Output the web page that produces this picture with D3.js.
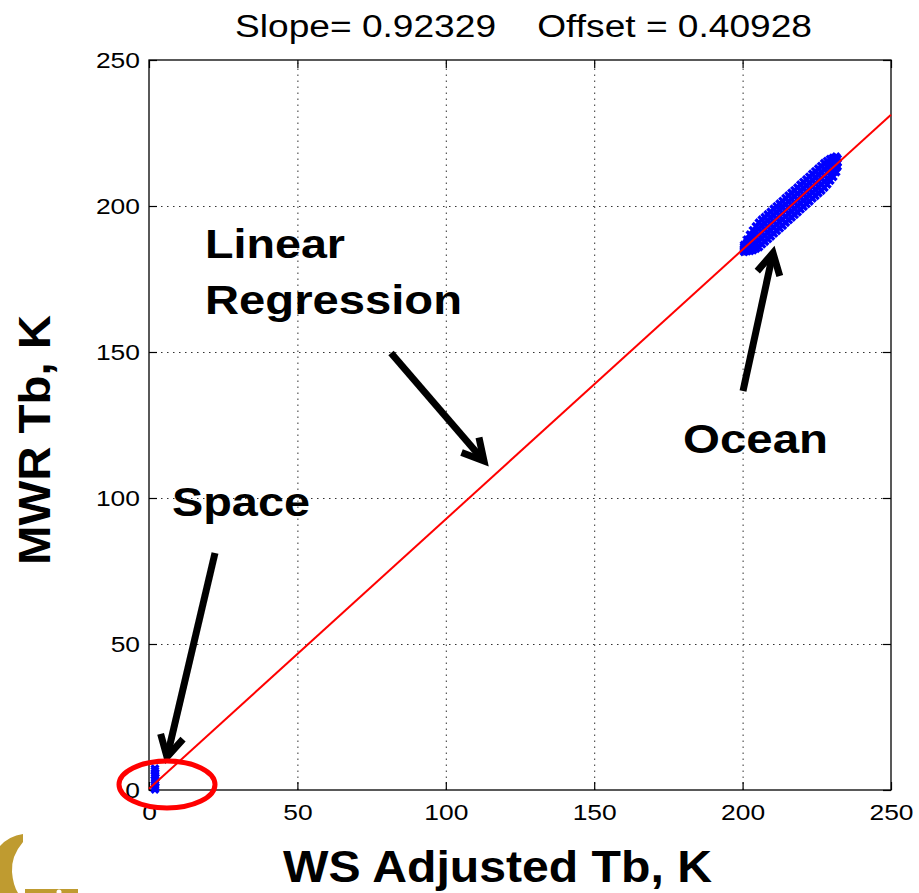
<!DOCTYPE html>
<html>
<head>
<meta charset="utf-8">
<script src="https://cdn.jsdelivr.net/npm/d3@7"></script>
<style>
  html, body { margin: 0; padding: 0; background: #fff; }
  svg { display: block; font-family: "Liberation Sans", Arial, sans-serif; }
</style>
</head>
<body>
<svg id="chart" width="919" height="893"></svg>
<script>
// Regression fit
const slope = 0.92329;
const offset = 0.40928;

// Axis ticks
const xTicks = [0, 50, 100, 150, 200, 250];
const yTicks = [0, 50, 100, 150, 200, 250];

// Ocean matchups (WS adjusted Tb, MWR Tb)
const oceanPoints = [
  [200.5,184.3],[200.5,184.9],[200.5,185.5],[200.5,186.1],[200.5,186.7],
  [201.5,184.5],[201.5,185.5],[201.5,186.5],[201.5,187.5],[201.5,188.5],
  [202.5,184.6],[202.5,186.0],[202.5,187.4],[202.5,188.8],[202.5,190.2],
  [203.5,184.9],[203.5,186.6],[203.5,188.3],[203.5,190.0],[203.5,191.7],
  [204.5,185.4],[204.5,187.3],[204.5,189.2],[204.5,191.1],[204.5,193.0],
  [205.5,185.9],[205.5,188.0],[205.5,190.1],[205.5,192.2],[205.5,194.3],
  [206.5,186.9],[206.5,189.0],[206.5,191.1],[206.5,193.2],[206.5,195.3],
  [207.5,187.8],[207.5,189.9],[207.5,192.0],[207.5,194.1],[207.5,196.2],
  [208.5,188.7],[208.5,190.8],[208.5,192.9],[208.5,195.0],[208.5,197.1],
  [209.5,189.6],[209.5,191.7],[209.5,193.8],[209.5,195.9],[209.5,198.0],
  [210.5,190.6],[210.5,192.7],[210.5,194.8],[210.5,196.9],[210.5,199.0],
  [211.5,191.5],[211.5,193.6],[211.5,195.7],[211.5,197.8],[211.5,199.9],
  [212.5,192.4],[212.5,194.5],[212.5,196.6],[212.5,198.7],[212.5,200.8],
  [213.5,193.3],[213.5,195.4],[213.5,197.5],[213.5,199.6],[213.5,201.7],
  [214.5,194.3],[214.5,196.4],[214.5,198.5],[214.5,200.6],[214.5,202.7],
  [215.5,195.2],[215.5,197.3],[215.5,199.4],[215.5,201.5],[215.5,203.6],
  [216.5,196.1],[216.5,198.2],[216.5,200.3],[216.5,202.4],[216.5,204.5],
  [217.5,197.0],[217.5,199.1],[217.5,201.2],[217.5,203.3],[217.5,205.4],
  [218.5,197.9],[218.5,200.0],[218.5,202.1],[218.5,204.2],[218.5,206.3],
  [219.5,198.9],[219.5,201.0],[219.5,203.1],[219.5,205.2],[219.5,207.3],
  [220.5,199.8],[220.5,201.9],[220.5,204.0],[220.5,206.1],[220.5,208.2],
  [221.5,200.7],[221.5,202.8],[221.5,204.9],[221.5,207.0],[221.5,209.1],
  [222.5,201.6],[222.5,203.7],[222.5,205.8],[222.5,207.9],[222.5,210.0],
  [223.5,202.6],[223.5,204.7],[223.5,206.8],[223.5,208.9],[223.5,211.0],
  [224.5,203.5],[224.5,205.6],[224.5,207.7],[224.5,209.8],[224.5,211.9],
  [225.5,204.4],[225.5,206.5],[225.5,208.6],[225.5,210.7],[225.5,212.8],
  [226.5,205.3],[226.5,207.4],[226.5,209.5],[226.5,211.6],[226.5,213.7],
  [227.5,206.3],[227.5,208.4],[227.5,210.5],[227.5,212.6],[227.5,214.7],
  [228.5,207.4],[228.5,209.4],[228.5,211.4],[228.5,213.4],[228.5,215.4],
  [229.5,208.7],[229.5,210.5],[229.5,212.3],[229.5,214.2],[229.5,216.1],
  [230.5,210.0],[230.5,211.6],[230.5,213.2],[230.5,214.8],[230.5,216.5],
  [231.5,211.6],[231.5,212.9],[231.5,214.1],[231.5,215.4],[231.5,216.9],
  [232.0,213.5],[232.0,214.8],[232.0,216.2]
];

// Deep-space (cold) matchups
const spacePoints = [
  [2.0,0.2],[2.1,1.0],[2.0,1.8],[2.1,2.6],[2.0,3.4],
  [2.1,4.2],[2.0,5.0],[2.1,5.8],[2.0,6.6],[2.0,7.3]
];

const svg = d3.select("#chart");
const margin = { left: 149, top: 60, right: 28, bottom: 103 };
const W = 919, H = 893;
const pw = W - margin.left - margin.right;
const ph = H - margin.top - margin.bottom;

const x = d3.scaleLinear().domain([0, 250]).range([margin.left, margin.left + pw]);
const y = d3.scaleLinear().domain([0, 250]).range([margin.top + ph, margin.top]);

// Widen text to a given width (or by a factor of its natural width)
function fitWidth(sel, width) {
  sel.attr("textLength", width).attr("lengthAdjust", "spacingAndGlyphs");
}
function widen(sel, factor) {
  sel.each(function () {
    const w = this.getComputedTextLength();
    d3.select(this).attr("textLength", w * factor).attr("lengthAdjust", "spacingAndGlyphs");
  });
}

// Dotted grid
const grid = svg.append("g").attr("stroke", "#000").attr("stroke-width", 1)
  .attr("stroke-dasharray", "1.5,4.5").attr("opacity", 0.8);
grid.selectAll("line.gx").data(xTicks.slice(1, -1)).join("line")
  .attr("x1", d => x(d) + 0.5).attr("x2", d => x(d) + 0.5)
  .attr("y1", y(0)).attr("y2", y(250));
grid.selectAll("line.gy").data(yTicks.slice(1, -1)).join("line")
  .attr("y1", d => y(d) + 0.5).attr("y2", d => y(d) + 0.5)
  .attr("x1", x(0)).attr("x2", x(250));

// Axes with inward ticks, boxed
const tickLen = 8;
const axB = d3.axisBottom(x).tickValues(xTicks).tickSize(-tickLen).tickPadding(14);
const axL = d3.axisLeft(y).tickValues(yTicks).tickSize(-tickLen).tickPadding(9);
const axT = d3.axisTop(x).tickValues(xTicks).tickSize(-tickLen).tickFormat("");
const axR = d3.axisRight(y).tickValues(yTicks).tickSize(-tickLen).tickFormat("");

function styleAxis(g) {
  g.select(".domain").remove();
  g.selectAll(".tick line").attr("stroke", "#000").attr("stroke-width", 1.2);
  g.selectAll(".tick text").attr("fill", "#000")
    .style("font-family", '"Liberation Sans", Arial, sans-serif')
    .style("font-size", "22px")
    .call(widen, 1.2);
}
svg.append("g").attr("transform", `translate(0,${y(0)})`).call(axB).call(styleAxis);
svg.append("g").attr("transform", `translate(${x(0)},0)`).call(axL).call(styleAxis);
svg.append("g").attr("transform", `translate(0,${y(250)})`).call(axT).call(styleAxis);
svg.append("g").attr("transform", `translate(${x(250)},0)`).call(axR).call(styleAxis);

svg.append("rect")
  .attr("x", x(0)).attr("y", y(250))
  .attr("width", x(250) - x(0)).attr("height", y(0) - y(250))
  .attr("fill", "none").attr("stroke", "#000").attr("stroke-width", 1.3);

// Scatter markers (x-shaped)
const m = 3.4;
function cross(sel) {
  sel.attr("d", d => {
    const cx = x(d[0]), cy = y(d[1]);
    return `M${cx - m},${cy - m}L${cx + m},${cy + m}M${cx - m},${cy + m}L${cx + m},${cy - m}`;
  });
}
const pts = svg.append("g").attr("stroke", "#0000ff").attr("stroke-width", 3.4).attr("fill", "none");
pts.selectAll("path.o").data(oceanPoints).join("path").call(cross);
pts.selectAll("path.s").data(spacePoints).join("path").call(cross);

// Regression line
const fit = d3.line().x(d => x(d)).y(d => y(slope * d + offset));
svg.append("path").datum([0, 250]).attr("d", fit)
  .attr("stroke", "#ff0000").attr("stroke-width", 2).attr("fill", "none");

// Title
svg.append("text").attr("x", 523.5).attr("y", 37).attr("text-anchor", "middle")
  .style("font-size", "31px").text("Slope= 0.92329\u00a0\u00a0\u00a0\u00a0Offset = 0.40928")
  .call(fitWidth, 577);

// Axis titles
svg.append("text").attr("x", 497.5).attr("y", 882).attr("text-anchor", "middle")
  .style("font-size", "44px").style("font-weight", "bold").text("WS Adjusted Tb, K")
  .call(fitWidth, 429);
svg.append("text").attr("transform", "translate(50,440) rotate(-90)").attr("text-anchor", "middle")
  .style("font-size", "44px").style("font-weight", "bold").text("MWR Tb, K")
  .call(fitWidth, 250);

// Annotations
const ann = svg.append("g").style("font-size", "40px").style("font-weight", "bold");
ann.append("text").attr("x", 205).attr("y", 258).text("Linear").call(fitWidth, 140);
ann.append("text").attr("x", 205).attr("y", 314).text("Regression").call(fitWidth, 257);
ann.append("text").attr("x", 683).attr("y", 453).text("Ocean").call(fitWidth, 145);
ann.append("text").attr("x", 172).attr("y", 516).text("Space").call(fitWidth, 138);

function arrow(x0, y0, x1, y1) {
  const a = Math.atan2(y1 - y0, x1 - x0);
  const L = 24, spread = 0.5;
  const ax1 = x1 - L * Math.cos(a - spread), ay1 = y1 - L * Math.sin(a - spread);
  const ax2 = x1 - L * Math.cos(a + spread), ay2 = y1 - L * Math.sin(a + spread);
  const g = svg.append("g").attr("stroke", "#000").attr("stroke-width", 7).attr("fill", "none");
  g.append("path").attr("d", `M${x0},${y0}L${x1 - 3 * Math.cos(a)},${y1 - 3 * Math.sin(a)}`);
  g.append("path").attr("d", `M${ax1},${ay1}L${x1},${y1}L${ax2},${ay2}`)
    .attr("stroke-linejoin", "miter");
}
arrow(391, 353, 484, 461);
arrow(743, 391, 773, 253);
arrow(215, 553, 167, 757);

// Ring around the space cluster
svg.append("ellipse").attr("cx", 167).attr("cy", 784.5).attr("rx", 48).attr("ry", 23.5)
  .attr("fill", "none").attr("stroke", "#ff0000").attr("stroke-width", 5);

// Corner logo fragment
const logo = svg.append("g").attr("fill", "#bf9b30");
logo.append("path").attr("d", "M0,846 Q9,836 23,834 L23,842 Q11,856 12,872 Q13,885 18,893 L0,893 Z");
logo.append("rect").attr("x", 25).attr("y", 889).attr("width", 53).attr("height", 4);
logo.append("circle").attr("cx", 59).attr("cy", 892).attr("r", 2.5).attr("fill", "#fff");
</script>
</body>
</html>
